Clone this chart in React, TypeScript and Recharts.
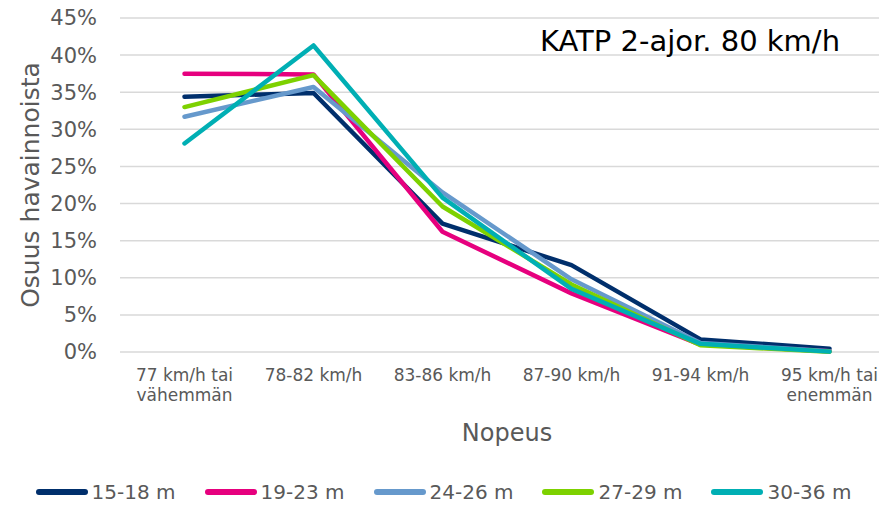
import React from "react";
import {
  LineChart,
  Line,
  XAxis,
  YAxis,
  CartesianGrid,
  Legend,
} from "recharts";

const FONT = "'DejaVu Sans', Verdana, sans-serif";

const categories = [
  "77 km/h tai vähemmän",
  "78-82 km/h",
  "83-86 km/h",
  "87-90 km/h",
  "91-94 km/h",
  "95 km/h tai enemmän",
];
const yTicks = [0, 5, 10, 15, 20, 25, 30, 35, 40, 45];

const s15_18 = [34.4, 34.9, 17.3, 11.7, 1.7, 0.45];
const s19_23 = [37.5, 37.4, 16.2, 7.9, 1.0, 0.1];
const s24_26 = [31.7, 35.7, 21.5, 9.8, 1.2, 0.1];
const s27_29 = [33.0, 37.3, 19.6, 9.1, 0.9, 0.05];
const s30_36 = [28.1, 41.3, 20.8, 8.5, 1.1, 0.05];

const series = [
  { key: "a", name: "15-18 m", color: "#002F6C", values: s15_18 },
  { key: "b", name: "19-23 m", color: "#E6007E", values: s19_23 },
  { key: "c", name: "24-26 m", color: "#6699CC", values: s24_26 },
  { key: "d", name: "27-29 m", color: "#7DD100", values: s27_29 },
  { key: "e", name: "30-36 m", color: "#00AFB4", values: s30_36 },
];

const data = categories.map((c, i) => {
  const row: any = { cat: c };
  series.forEach((s) => (row[s.key] = s.values[i]));
  return row;
});

const XTick = ({ x, y, payload }: any) => {
  const label: string = payload.value;
  const i = label.indexOf(" tai ");
  const lines = i >= 0 ? [label.slice(0, i + 4), label.slice(i + 5)] : [label];
  return (
    <text x={x} y={y} textAnchor="middle" fill="#595959" fontSize={17} fontFamily={FONT}>
      {lines.map((l, k) => (
        <tspan key={k} x={x} dy={k === 0 ? 29 : 20}>
          {l}
        </tspan>
      ))}
    </text>
  );
};

const LegendContent = () => (
  <div
    style={{
      display: "flex",
      justifyContent: "center",
      alignItems: "center",
      height: 28,
      width: 887,
      fontFamily: FONT,
      fontSize: 20,
      color: "#595959",
    }}
  >
    {series.map((s, i) => (
      <div
        key={s.key}
        style={{ display: "flex", alignItems: "center", marginRight: i < series.length - 1 ? 29 : 0 }}
      >
        <span
          style={{
            display: "inline-block",
            width: 52,
            height: 6,
            borderRadius: 3,
            background: s.color,
            marginRight: 4,
          }}
        />
        <span>{s.name}</span>
      </div>
    ))}
  </div>
);

export default function App() {
  return (
    <div
      style={{
        position: "relative",
        margin: -8,
        width: 887,
        height: 508,
        overflow: "hidden",
        background: "#fff",
      }}
    >
      <LineChart
        width={900}
        height={508}
        data={data}
        margin={{ top: 18, right: 6, bottom: 2, left: 0 }}
      >
        <CartesianGrid vertical={false} stroke="#d9d9d9" strokeWidth={1.5} />
        <XAxis
          dataKey="cat"
          axisLine={false}
          tickLine={false}
          tickSize={0}
          tickMargin={0}
          height={126}
          interval={0}
          padding={{ left: 64.5, right: 64.5 }}
          tick={<XTick />}
          label={{
            value: "Nopeus",
            position: "insideBottom",
            offset: 37,
            fill: "#595959",
            fontSize: 24,
            fontFamily: FONT,
          }}
        />
        <YAxis
          width={120}
          domain={[0, 45]}
          ticks={yTicks}
          tickFormatter={(v) => `${v}%`}
          axisLine={false}
          tickLine={false}
          tickSize={0}
          tickMargin={23}
          tick={{ fill: "#595959", fontSize: 21, fontFamily: FONT }}
          label={{
            value: "Osuus havainnoista",
            angle: -90,
            position: "insideLeft",
            offset: 30,
            fill: "#595959",
            fontSize: 25,
            fontFamily: FONT,
            style: { textAnchor: "middle" },
          }}
        />
        <Legend
          verticalAlign="bottom"
          content={<LegendContent />}
          wrapperStyle={{ left: 0, width: 887 }}
        />
        {series.map((s) => (
          <Line
            key={s.key}
            type="linear"
            dataKey={s.key}
            name={s.name}
            stroke={s.color}
            strokeWidth={4.5}
            strokeLinejoin="round"
            strokeLinecap="round"
            dot={false}
            activeDot={false}
            isAnimationActive={false}
          />
        ))}
      </LineChart>
      <div
        style={{
          position: "absolute",
          left: 540,
          top: 27,
          fontFamily: FONT,
          fontSize: 29,
          lineHeight: "29px",
          color: "#000",
          whiteSpace: "nowrap",
        }}
      >
        KATP 2-ajor. 80 km/h
      </div>
    </div>
  );
}
